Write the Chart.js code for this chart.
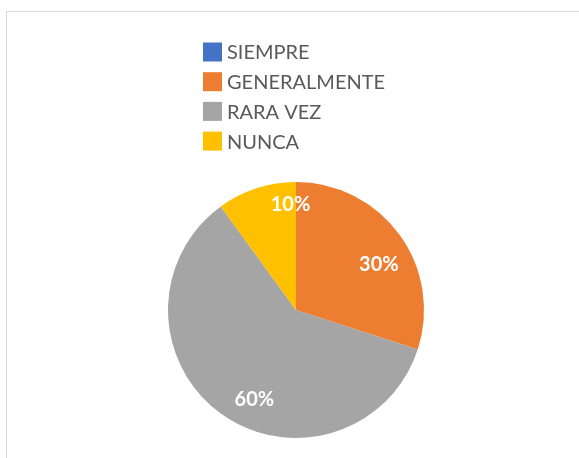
<!DOCTYPE html>
<html>
<head>
<meta charset="utf-8">
<script src="https://cdn.jsdelivr.net/npm/chart.js@4/dist/chart.umd.min.js"></script>
<style>
  body { margin: 0; background: #fff; }
  #frame { position: absolute; left: 6px; top: 11px; width: 620px; height: 500px; border: 1px solid #d9d9d9; }
  #pieChart { position: absolute; left: 0; top: 0; }
</style>
</head>
<body>
<div id="frame"></div>
<canvas id="pieChart" width="579" height="458"></canvas>
<script>
var categories = ["SIEMPRE", "GENERALMENTE", "RARA VEZ", "NUNCA"];
var values = [0, 30, 60, 10];

var sliceColors = ["#4472C4", "#ED7D31", "#A5A5A5", "#FFC000"];

// where the percent labels sit inside each slice (angle nudge in degrees, radius fraction)
var labelNudge = [0, 7, -11, 15];
var labelRadius = [0.78, 0.74, 0.77, 0.825];

// legend drawn as a vertical list above the pie
var listLegend = {
  id: "listLegend",
  afterDraw: function (chart) {
    var ctx = chart.ctx;
    ctx.save();
    ctx.font = "20px Lato";
    ctx.textBaseline = "middle";
    ctx.textAlign = "left";
    for (var i = 0; i < categories.length; i++) {
      var y = 52 + i * 29.7;
      ctx.fillStyle = sliceColors[i];
      ctx.fillRect(203, y - 9.5, 19, 19);
      ctx.fillStyle = "#595959";
      ctx.fillText(categories[i], 227, y + 1);
    }
    ctx.restore();
  }
};

var percentLabels = {
  id: "percentLabels",
  afterDatasetsDraw: function (chart) {
    var ctx = chart.ctx;
    var arcs = chart.getDatasetMeta(0).data;
    var total = values.reduce(function (a, b) { return a + b; }, 0);
    ctx.save();
    ctx.font = "bold 20px Lato";
    ctx.fillStyle = "#ffffff";
    ctx.textAlign = "center";
    ctx.textBaseline = "middle";
    arcs.forEach(function (arc, i) {
      if (!values[i]) return;
      var p = arc.getProps(["x", "y", "startAngle", "endAngle", "outerRadius"], true);
      var mid = (p.startAngle + p.endAngle) / 2 + labelNudge[i] * Math.PI / 180;
      var r = p.outerRadius * labelRadius[i];
      ctx.fillText(Math.round(values[i] / total * 100) + "%", p.x + Math.cos(mid) * r, p.y + Math.sin(mid) * r);
    });
    ctx.restore();
  }
};

new Chart("pieChart", {
  type: "pie",
  data: {
    labels: categories,
    datasets: [{
      data: values,
      backgroundColor: sliceColors,
      borderWidth: 0
    }]
  },
  options: {
    responsive: false,
    animation: false,
    layout: { padding: { left: 168, right: 155, top: 182, bottom: 20 } },
    plugins: {
      legend: { display: false },
      tooltip: { enabled: false }
    }
  },
  plugins: [listLegend, percentLabels]
});
</script>
</body>
</html>
